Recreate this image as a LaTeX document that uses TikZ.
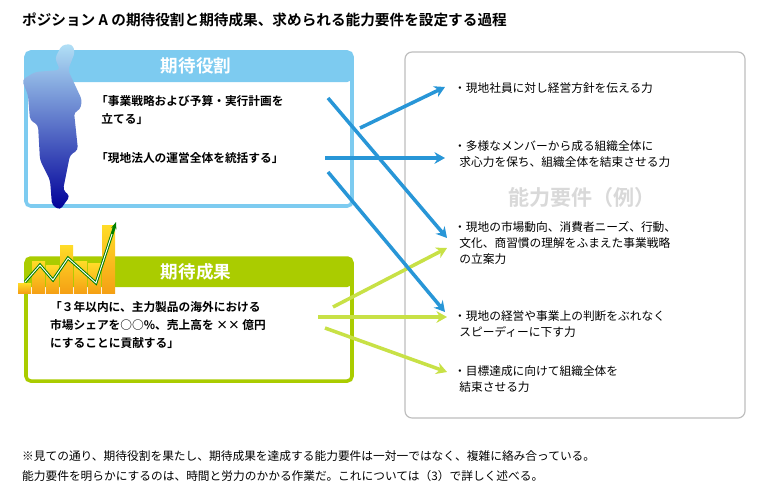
\documentclass[tikz,border=0pt]{standalone}
\usepackage{fontspec}
\setmainfont{Noto Sans CJK JP}
\newfontfamily\jpbold{Noto Sans CJK JP Bold}
\usetikzlibrary{arrows.meta, positioning}
\definecolor{roleblue}{RGB}{125,203,240}
\definecolor{arrowblue}{RGB}{40,150,215}
\definecolor{resgreen}{RGB}{170,204,0}
\definecolor{arrowgreen}{RGB}{200,225,70}
\definecolor{boxgray}{RGB}{190,190,190}
\definecolor{barorange}{RGB}{245,160,20}
\definecolor{baryellow}{RGB}{255,220,40}
\tikzset{
  headtext/.style={text=white, font=\jpbold\fontsize{15}{15}\selectfont},
  bodytext/.style={anchor=west, align=left, font=\jpbold\fontsize{10}{15}\selectfont},
  abilitytext/.style={anchor=west, align=left, font=\fontsize{10}{14}\selectfont},
  bluearrow/.style={arrowblue, line width=3pt, -{Stealth[length=9pt,width=10pt]}},
  greenarrow/.style={arrowgreen, line width=3pt, -{Stealth[length=9pt,width=10pt]}},
  bar/.style={top color=baryellow, bottom color=barorange}
}
\begin{document}
\begin{tikzpicture}[x=0.03cm, y=-0.03cm]
\useasboundingbox (0,0) rectangle (760,495);
\fill[white] (0,0) rectangle (760,495);

\node (title) [anchor=west, font=\jpbold\fontsize{12.5}{14}\selectfont] at (18,20)
  {ポジション A の期待役割と期待成果、求められる能力要件を設定する過程};

% 能力要件 box
\draw[boxgray, line width=1pt, rounded corners=6pt] (405,52) rectangle (745,418);
\node (caption) [text=black!15, font=\jpbold\fontsize{18}{18}\selectfont] at (582,197) {能力要件（例）};
\node (a1) [abilitytext] at (450,88) {・現地社員に対し経営方針を伝える力};
\node (a2) [abilitytext] at (450,154) {・多様なメンバーから成る組織全体に\\\ \ 求心力を保ち、組織全体を結束させる力};
\node (a3) [abilitytext] at (450,243) {・現地の市場動向、消費者ニーズ、行動、\\\ \ 文化、商習慣の理解をふまえた事業戦略\\\ \ の立案力};
\node (a4) [abilitytext] at (450,324) {・現地の経営や事業上の判断をぶれなく\\\ \ スピーディーに下す力};
\node (a5) [abilitytext] at (450,379) {・目標達成に向けて組織全体を\\\ \ 結束させる力};

% 期待役割 box
\draw[roleblue, line width=3pt, rounded corners=4pt] (26,52) rectangle (352,206);
\fill[roleblue, rounded corners=4pt] (26,52) rectangle (352,82);
\node (rolehead) [headtext] at (196,66) {期待役割};
\node (r1) [bodytext] at (92,110) {「事業戦略および予算・実行計画を\\\ \ 立てる」};
\node (r2) [bodytext] at (92,158) {「現地法人の運営全体を統括する」};

% silhouette
\path[top color=roleblue!60, bottom color=blue!60!black, rounded corners=3pt]
  (60,70) -- (55,58) -- (62,45) -- (72,44) -- (75,52) -- (68,70) -- (82,100) -- (80,110)
  -- (74,112) -- (78,150) -- (70,155) -- (63,190) -- (70,196) -- (60,210) -- (52,205)
  -- (50,180) -- (40,160) -- (38,125) -- (30,120) -- (28,95) -- (22,80) -- (35,72) -- cycle;

% 期待成果 box
\draw[resgreen, line width=3pt, rounded corners=4pt] (26,258) rectangle (352,381);
\fill[resgreen, rounded corners=4pt] (26,258) rectangle (352,287);
\node (reshead) [headtext] at (196,272) {期待成果};
\node (g1) [bodytext] at (46,325) {「３年以内に、主力製品の海外における\\市場シェアを○○\%、売上高を ×× 億円\\にすることに貢献する」};

% bar chart
\foreach \bx/\bh in {18/10,32/32,46/28,60/48,74/32,88/30,102/68}
  \path[bar] (\bx,293) rectangle ++(13,-\bh);
\draw[green!50!black, line width=2.5pt, -{Stealth[length=6pt]}]
  (25,282) -- (40,265) -- (53,280) -- (68,258) -- (96,283) -- (116,222);
\draw[white, line width=0.8pt] (25,282) -- (40,265) -- (53,280) -- (68,258) -- (96,283) -- (112,234);

% connectors
\coordinate (b1) at (360,128);
\coordinate (b2) at (325,158);
\coordinate (b3) at (328,98);
\coordinate (b4) at (328,172);
\coordinate (c1) at (333,307);
\coordinate (c2) at (318,317);
\coordinate (c3) at (325,328);
\draw[greenarrow] (c1) -- (447,248);
\draw[greenarrow] (c2) -- (447,317);
\draw[greenarrow] (c3) -- (447,372);
\draw[bluearrow] (b1) -- (445,87);
\draw[bluearrow] (b2) -- (445,158);
\draw[bluearrow] (b3) -- (447,238);
\draw[bluearrow] (b4) -- (445,312);

% note
\node (note) [anchor=west, align=left, font=\fontsize{10}{17}\selectfont] at (18,466)
  {※見ての通り、期待役割を果たし、期待成果を達成する能力要件は一対一ではなく、複雑に絡み合っている。\\能力要件を明らかにするのは、時間と労力のかかる作業だ。これについては（3）で詳しく述べる。};
\end{tikzpicture}
\end{document}
